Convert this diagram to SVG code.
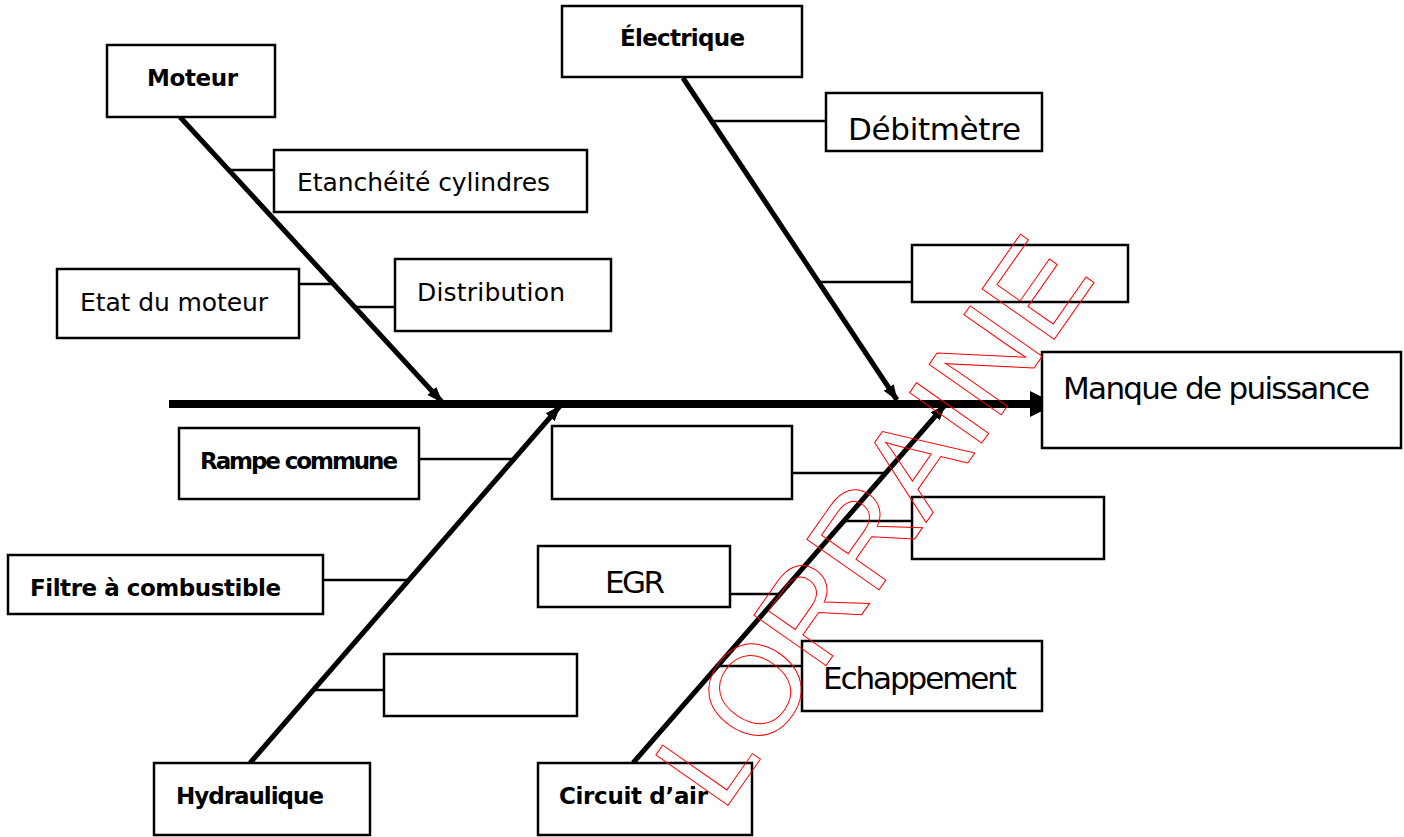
<svg xmlns="http://www.w3.org/2000/svg" width="1404" height="837" viewBox="0 0 1404 837">
<style>
.box{fill:#fff;stroke:#000;stroke-width:2.5}
.lbl{font-family:"DejaVu Sans","Liberation Sans",sans-serif;font-size:25px;fill:#000}
.big{font-family:"DejaVu Sans","Liberation Sans",sans-serif;font-size:31px;fill:#000}
.b{font-weight:bold;font-size:23px}
.bone{stroke:#000;stroke-width:5;fill:none}
.twig{stroke:#000;stroke-width:2.5;fill:none}
.wm{font-family:"Liberation Sans",Arial,sans-serif;font-size:128px;fill:none;stroke:#f00;stroke-width:1}
</style>
<defs>
<marker id="ah" markerUnits="userSpaceOnUse" markerWidth="18" markerHeight="14" refX="15" refY="6" orient="auto">
<path d="M0,0 L16,6 L0,12 z" fill="#000"/>
</marker>
</defs>
<g id="connectors">
<line x1="169" y1="404" x2="1032" y2="404" stroke="#000" stroke-width="8"/>
<polygon points="1030,391 1056,404 1030,417" fill="#000"/>
<line class="bone" x1="180" y1="117" x2="442" y2="402" marker-end="url(#ah)"/>
<line class="bone" x1="683" y1="78" x2="897" y2="400" marker-end="url(#ah)"/>
<line class="bone" x1="250" y1="763" x2="560" y2="406" marker-end="url(#ah)"/>
<line class="bone" x1="633" y1="763" x2="945" y2="405" marker-end="url(#ah)"/>
<line class="twig" x1="229" y1="170" x2="274" y2="170"/>
<line class="twig" x1="299" y1="284" x2="333" y2="284"/>
<line class="twig" x1="355" y1="307" x2="395" y2="307"/>
<line class="twig" x1="712" y1="121" x2="826" y2="121"/>
<line class="twig" x1="819" y1="282" x2="912" y2="282"/>
<line class="twig" x1="419" y1="459" x2="514" y2="459"/>
<line class="twig" x1="323" y1="580" x2="409" y2="580"/>
<line class="twig" x1="313" y1="690" x2="384" y2="690"/>
<line class="twig" x1="792" y1="473" x2="886" y2="473"/>
<line class="twig" x1="844" y1="521" x2="912" y2="521"/>
<line class="twig" x1="730" y1="594" x2="780" y2="594"/>
<line class="twig" x1="718" y1="666" x2="802" y2="666"/>
</g>
<g id="moteur"><rect class="box" x="107" y="45" width="168" height="72"/><text class="lbl b" x="147" y="86" textLength="91">Moteur</text></g>
<g id="electrique"><rect class="box" x="562" y="6" width="240" height="71"/><text class="lbl b" x="620" y="46" textLength="125">Électrique</text></g>
<g id="debitmetre"><rect class="box" x="826" y="93" width="216" height="58"/><text class="big" x="848" y="140" textLength="173">Débitmètre</text></g>
<g id="etancheite"><rect class="box" x="274" y="150" width="313" height="62"/><text class="lbl" x="297" y="191" textLength="253">Etanchéité cylindres</text></g>
<g id="etat"><rect class="box" x="57" y="269" width="242" height="69"/><text class="lbl" x="80" y="311" textLength="188">Etat du moteur</text></g>
<g id="distribution"><rect class="box" x="395" y="259" width="216" height="72"/><text class="lbl" x="417" y="301" textLength="148">Distribution</text></g>
<g id="empty1"><rect class="box" x="912" y="245" width="216" height="57"/></g>
<g id="effet"><rect class="box" x="1042" y="352" width="359" height="96"/><text class="big" x="1063" y="399" textLength="307">Manque de puissance</text></g>
<g id="rampe"><rect class="box" x="179" y="428" width="240" height="71"/><text class="lbl b" x="200" y="469" textLength="198">Rampe commune</text></g>
<g id="empty2"><rect class="box" x="552" y="426" width="240" height="73"/></g>
<g id="empty3"><rect class="box" x="912" y="497" width="192" height="62"/></g>
<g id="filtre"><rect class="box" x="8" y="555" width="315" height="59"/><text class="lbl b" x="30" y="596" textLength="251">Filtre à combustible</text></g>
<g id="egr"><rect class="box" x="538" y="546" width="192" height="61"/><text class="big" x="605" y="593" textLength="60">EGR</text></g>
<g id="empty4"><rect class="box" x="384" y="654" width="193" height="62"/></g>
<g id="echappement"><rect class="box" x="802" y="641" width="240" height="70"/><text class="big" x="823" y="689" textLength="194">Echappement</text></g>
<g id="hydraulique"><rect class="box" x="154" y="763" width="216" height="72"/><text class="lbl b" x="176" y="804" textLength="148">Hydraulique</text></g>
<g id="circuit"><rect class="box" x="538" y="763" width="214" height="72"/><text class="lbl b" x="559" y="804" textLength="149">Circuit d’air</text></g>
<text class="wm" transform="translate(722,814) rotate(-55)">LORRAINE</text>
</svg>
